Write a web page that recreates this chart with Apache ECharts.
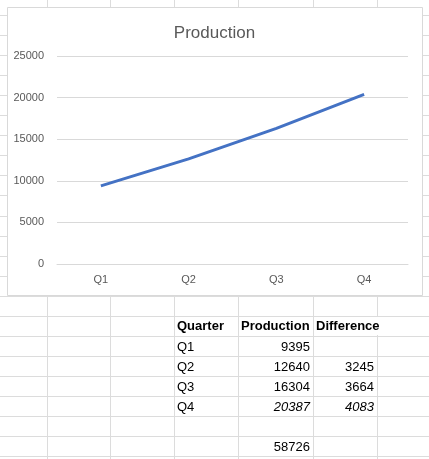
<!DOCTYPE html>
<html>
<head>
<meta charset="utf-8">
<script src="https://cdn.jsdelivr.net/npm/echarts@6/dist/echarts.min.js"></script>
<style>
  html, body { margin: 0; padding: 0; background: #fff; }
  #main { width: 429px; height: 459px; }
</style>
</head>
<body>
<div id="main"></div>
<script>
// chart data
var quarters = ['Q1', 'Q2', 'Q3', 'Q4'];
var production = [9395, 12640, 16304, 20387];
var difference = [null, 3245, 3664, 4083];
var total = 58726;
var headers = ['Quarter', 'Production', 'Difference'];

var chart = echarts.init(document.getElementById('main'));

// spreadsheet background grid
var cellColor = '#dcdcdc';
var colX = [47, 110, 174, 238, 313, 377];
var graphics = [];
colX.forEach(function (x) {
  graphics.push({
    type: 'line', z: -10, silent: true,
    shape: { x1: x + 0.5, y1: 0, x2: x + 0.5, y2: 459 },
    style: { stroke: cellColor, lineWidth: 1 }
  });
});
for (var k = 0; k < 23; k++) {
  var y = Math.round(15 + k * 20.05) + 0.5;
  graphics.push({
    type: 'line', z: -10, silent: true,
    shape: { x1: 0, y1: y, x2: 429, y2: y },
    style: { stroke: cellColor, lineWidth: 1 }
  });
}
// "Difference" header overflows the next cell border
graphics.push({
  type: 'rect', z: -9, silent: true,
  shape: { x: 376, y: 317, width: 4, height: 18 },
  style: { fill: '#fff' }
});

// chart box
graphics.push({
  type: 'rect', z: -5, silent: true,
  shape: { x: 7.5, y: 7.5, width: 415, height: 288 },
  style: { fill: '#fff', stroke: '#d9d9d9', lineWidth: 1 }
});

// table text
var font = 'Liberation Sans, Arial, sans-serif';
function cellText(txt, x, y, align, weight, italic) {
  graphics.push({
    type: 'text', z: 5, silent: true,
    x: x, y: y,
    style: {
      text: txt,
      fill: '#000',
      fontSize: 13,
      fontFamily: font,
      fontWeight: weight || 'normal',
      fontStyle: italic ? 'italic' : 'normal',
      align: align,
      verticalAlign: 'middle'
    }
  });
}
var headX = [177, 241, 316];
headers.forEach(function (h, i) { cellText(h, headX[i], 326, 'left', 'bold'); });
quarters.forEach(function (q, i) {
  var ry = 347 + i * 20;
  var it = i === 3;
  cellText(q, 177, ry, 'left');
  cellText(String(production[i]), 310, ry, 'right', 'normal', it);
  if (difference[i] != null) cellText(String(difference[i]), 374, ry, 'right', 'normal', it);
});
cellText(String(total), 310, 447, 'right');

chart.setOption({
  animation: false,
  title: {
    text: 'Production',
    left: 'center',
    top: 20,
    textStyle: { color: '#595959', fontSize: 17, fontWeight: 'normal', fontFamily: font }
  },
  grid: { left: 57, right: 21, top: 56, bottom: 195 },
  xAxis: {
    type: 'category',
    data: quarters,
    axisLine: { lineStyle: { color: '#d9d9d9' } },
    axisTick: { show: false },
    axisLabel: { color: '#595959', fontSize: 11, margin: 10, fontFamily: font }
  },
  yAxis: {
    type: 'value',
    min: 0,
    max: 25000,
    interval: 5000,
    axisLine: { show: false },
    axisTick: { show: false },
    axisLabel: {
      color: '#595959', fontSize: 11, margin: 13, fontFamily: font,
      formatter: function (v) { return String(v); }
    },
    splitLine: { lineStyle: { color: '#d9d9d9' } }
  },
  series: [{
    name: 'Production',
    type: 'line',
    data: production,
    showSymbol: false,
    symbol: 'none',
    lineStyle: { color: '#4472c4', width: 3 }
  }],
  graphic: graphics
});
</script>
</body>
</html>
